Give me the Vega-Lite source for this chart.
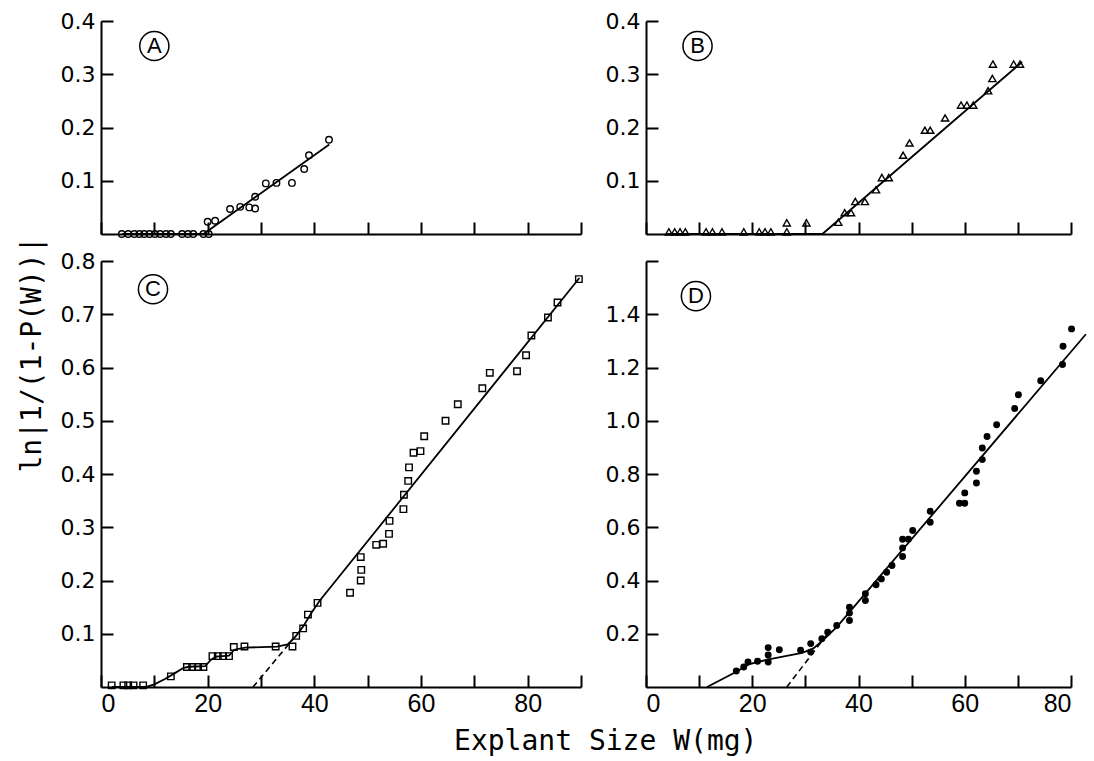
{
  "$schema": "https://vega.github.io/schema/vega-lite/v6.json",
  "background": "white",
  "padding": {"left": 17, "top": 10, "right": 5, "bottom": 5},
  "title": {"text": "Explant Size W(mg)", "orient": "bottom", "anchor": "middle", "font": "DejaVu Sans Mono", "fontSize": 28, "fontWeight": "normal", "color": "black", "offset": 12, "dx": 52},
  "datasets": {
    "Apt": [{"x":3.9,"y":0},{"x":5.1,"y":0},{"x":6.25,"y":0},{"x":7.2,"y":0},{"x":8.1,"y":0},{"x":9.1,"y":0},{"x":10.1,"y":0},{"x":11.1,"y":0},{"x":12.2,"y":0},{"x":13.1,"y":0},{"x":15.2,"y":0},{"x":16.3,"y":0},{"x":17.3,"y":0},{"x":19.2,"y":0},{"x":20.2,"y":0},{"x":20,"y":0.023},{"x":21.4,"y":0.025},{"x":24.2,"y":0.047},{"x":26.1,"y":0.051},{"x":27.8,"y":0.05},{"x":28.9,"y":0.048},{"x":28.9,"y":0.07},{"x":30.9,"y":0.095},{"x":32.9,"y":0.096},{"x":35.8,"y":0.096},{"x":38.1,"y":0.122},{"x":39,"y":0.148},{"x":42.75,"y":0.177}],
    "Afit": [{"x":4,"y":0},{"x":19.2,"y":0},{"x":42.8,"y":0.168}],
    "Alab": [{"x":10,"y":0.353,"t":"A"}],
    "Bpt": [{"x":4.3,"y":0.004},{"x":5.4,"y":0.004},{"x":6.4,"y":0.004},{"x":7.4,"y":0.004},{"x":11.3,"y":0.004},{"x":12.5,"y":0.004},{"x":14.3,"y":0.004},{"x":18.4,"y":0.004},{"x":21.3,"y":0.004},{"x":22.4,"y":0.004},{"x":23.5,"y":0.004},{"x":26.5,"y":0.004},{"x":26.5,"y":0.021},{"x":30.2,"y":0.021},{"x":36.2,"y":0.022},{"x":37.4,"y":0.04},{"x":38.6,"y":0.04},{"x":39.4,"y":0.061},{"x":41.2,"y":0.061},{"x":43.3,"y":0.083},{"x":44.4,"y":0.106},{"x":45.7,"y":0.106},{"x":48.4,"y":0.148},{"x":49.6,"y":0.171},{"x":52.5,"y":0.195},{"x":53.5,"y":0.195},{"x":56.3,"y":0.218},{"x":59.3,"y":0.242},{"x":60.4,"y":0.242},{"x":61.6,"y":0.242},{"x":64.4,"y":0.269},{"x":65.2,"y":0.292},{"x":65.3,"y":0.319},{"x":69.2,"y":0.319},{"x":70.4,"y":0.319}],
    "Bfit": [{"x":4,"y":0},{"x":33.2,"y":0},{"x":70.8,"y":0.323}],
    "Blab": [{"x":9.7,"y":0.353,"t":"B"}],
    "Cpt": [{"x":2,"y":0.003},{"x":4.2,"y":0.003},{"x":5.1,"y":0.003},{"x":6.1,"y":0.003},{"x":7.9,"y":0.003},{"x":13.1,"y":0.02},{"x":16.1,"y":0.0375},{"x":17.1,"y":0.0375},{"x":18.2,"y":0.0375},{"x":19.2,"y":0.0375},{"x":20.9,"y":0.058},{"x":21.9,"y":0.058},{"x":22.9,"y":0.058},{"x":24,"y":0.058},{"x":24.9,"y":0.075},{"x":26.9,"y":0.076},{"x":32.75,"y":0.076},{"x":35.9,"y":0.076},{"x":36.6,"y":0.096},{"x":37.9,"y":0.11},{"x":38.8,"y":0.136},{"x":40.6,"y":0.158},{"x":46.7,"y":0.177},{"x":48.7,"y":0.2},{"x":48.8,"y":0.22},{"x":48.7,"y":0.244},{"x":51.6,"y":0.267},{"x":52.9,"y":0.269},{"x":54,"y":0.2875},{"x":54.1,"y":0.312},{"x":56.7,"y":0.334},{"x":56.8,"y":0.361},{"x":57.6,"y":0.387},{"x":57.75,"y":0.4125},{"x":58.6,"y":0.44},{"x":59.9,"y":0.443},{"x":60.6,"y":0.471},{"x":64.6,"y":0.5},{"x":66.9,"y":0.531},{"x":71.5,"y":0.561},{"x":72.9,"y":0.59},{"x":78,"y":0.593},{"x":79.7,"y":0.623},{"x":80.7,"y":0.66},{"x":83.8,"y":0.694},{"x":85.6,"y":0.722},{"x":89.6,"y":0.766}],
    "Cfit": [{"x":2,"y":0},{"x":8.4,"y":0},{"x":10,"y":0.005},{"x":12,"y":0.015},{"x":14,"y":0.027},{"x":15.5,"y":0.036},{"x":16.5,"y":0.038},{"x":19.5,"y":0.039},{"x":20.5,"y":0.05},{"x":21.5,"y":0.057},{"x":24,"y":0.059},{"x":25,"y":0.07},{"x":27,"y":0.074},{"x":33,"y":0.076},{"x":35,"y":0.08},{"x":36.5,"y":0.095},{"x":38,"y":0.115},{"x":39.5,"y":0.14},{"x":41,"y":0.162},{"x":89.7,"y":0.768}],
    "Cdash": [{"x":28.5,"y":0},{"x":36,"y":0.09}],
    "Clab": [{"x":9.75,"y":0.747,"t":"C"}],
    "Dpt": [{"x":17,"y":0.06},{"x":18.4,"y":0.075},{"x":19.2,"y":0.094},{"x":21,"y":0.097},{"x":23,"y":0.094},{"x":23,"y":0.12},{"x":23,"y":0.148},{"x":25.1,"y":0.14},{"x":29.1,"y":0.138},{"x":31,"y":0.131},{"x":31,"y":0.163},{"x":33.1,"y":0.181},{"x":34.2,"y":0.206},{"x":35.9,"y":0.231},{"x":38.3,"y":0.25},{"x":38.3,"y":0.2775},{"x":38.3,"y":0.3},{"x":41.3,"y":0.325},{"x":41.3,"y":0.35},{"x":43.3,"y":0.384},{"x":44.3,"y":0.406},{"x":45.3,"y":0.431},{"x":46.3,"y":0.456},{"x":48.3,"y":0.49},{"x":48.3,"y":0.5225},{"x":48.3,"y":0.555},{"x":49.4,"y":0.555},{"x":50.2,"y":0.5875},{"x":53.5,"y":0.619},{"x":53.5,"y":0.66},{"x":59,"y":0.69},{"x":60,"y":0.69},{"x":60,"y":0.729},{"x":62.2,"y":0.766},{"x":62.2,"y":0.81},{"x":63.3,"y":0.854},{"x":63.3,"y":0.8975},{"x":64.2,"y":0.941},{"x":66,"y":0.985},{"x":69.4,"y":1.046},{"x":70.1,"y":1.0975},{"x":74.3,"y":1.15},{"x":78.4,"y":1.211},{"x":78.5,"y":1.28},{"x":80.1,"y":1.345}],
    "Dfit": [{"x":11.5,"y":0},{"x":17.1,"y":0.058},{"x":19.3,"y":0.085},{"x":23.1,"y":0.104},{"x":26,"y":0.115},{"x":29.4,"y":0.128},{"x":31.5,"y":0.145},{"x":33.1,"y":0.172},{"x":35.9,"y":0.225},{"x":82.8,"y":1.325}],
    "Ddash": [{"x":26.5,"y":0},{"x":34,"y":0.195}],
    "Dlab": [{"x":9.4,"y":1.468,"t":"D"}]
  },
  "columns": 2,
  "spacing": {"row": 27, "column": 65},
  "bounds": "flush",
  "concat": [
    {
      "width": 480, "height": 213,
      "encoding": {
        "x": {"field": "x", "type": "quantitative", "scale": {"domain": [0, 90], "nice": false, "zero": false}, "axis": {"values": [0,10,20,30,40,50,60,70,80,90], "labels": false, "title": null}},
        "y": {"field": "y", "type": "quantitative", "scale": {"domain": [0, 0.4], "nice": false}, "axis": {"values": [0.1,0.2,0.3,0.4], "format": ".1f", "title": null}}
      },
      "layer": [
        {"data": {"name": "Afit"}, "mark": {"type": "line", "color": "black", "strokeWidth": 1.8}},
        {"data": {"name": "Apt"}, "mark": {"type": "point", "shape": "circle", "filled": false, "color": "black", "strokeWidth": 1.4, "size": 42, "opacity": 1}},
        {"data": {"name": "Alab"}, "mark": {"type": "point", "shape": "circle", "filled": false, "color": "black", "strokeWidth": 1.5, "size": 850, "opacity": 1}},
        {"data": {"name": "Alab"}, "mark": {"type": "text", "font": "Liberation Sans", "fontSize": 22, "color": "black", "baseline": "middle", "align": "center"}, "encoding": {"text": {"field": "t"}}}
      ]
    },
    {
      "width": 425, "height": 213,
      "encoding": {
        "x": {"field": "x", "type": "quantitative", "scale": {"domain": [0, 80], "nice": false, "zero": false}, "axis": {"values": [0,10,20,30,40,50,60,70,80], "labels": false, "title": null}},
        "y": {"field": "y", "type": "quantitative", "scale": {"domain": [0, 0.4], "nice": false}, "axis": {"values": [0.1,0.2,0.3,0.4], "format": ".1f", "title": null}}
      },
      "layer": [
        {"data": {"name": "Bfit"}, "mark": {"type": "line", "color": "black", "strokeWidth": 1.8}},
        {"data": {"name": "Bpt"}, "mark": {"type": "point", "shape": "triangle-up", "filled": false, "color": "black", "strokeWidth": 1.4, "size": 52, "opacity": 1}},
        {"data": {"name": "Blab"}, "mark": {"type": "point", "shape": "circle", "filled": false, "color": "black", "strokeWidth": 1.5, "size": 850, "opacity": 1}},
        {"data": {"name": "Blab"}, "mark": {"type": "text", "font": "Liberation Sans", "fontSize": 22, "color": "black", "baseline": "middle", "align": "center"}, "encoding": {"text": {"field": "t"}}}
      ]
    },
    {
      "width": 480, "height": 426,
      "encoding": {
        "x": {"field": "x", "type": "quantitative", "scale": {"domain": [0, 90], "nice": false, "zero": false}, "axis": {"values": [0,10,20,30,40,50,60,70,80,90], "labelExpr": "datum.value % 20 === 0 ? datum.label : ''", "title": null}},
        "y": {"field": "y", "type": "quantitative", "scale": {"domain": [0, 0.8], "nice": false}, "axis": {"values": [0.1,0.2,0.3,0.4,0.5,0.6,0.7,0.8], "format": ".1f", "title": "ln|1/(1-P(W))|", "titleX": -69, "titleY": 93, "titleAngle": 270, "titleAlign": "center", "titleBaseline": "middle", "titleFont": "DejaVu Sans Mono", "titleFontSize": 28, "titleFontWeight": "normal", "titleColor": "black"}}
      },
      "layer": [
        {"data": {"name": "Cfit"}, "mark": {"type": "line", "color": "black", "strokeWidth": 1.8}},
        {"data": {"name": "Cdash"}, "mark": {"type": "line", "color": "black", "strokeWidth": 1.6, "strokeDash": [6, 4]}},
        {"data": {"name": "Cpt"}, "mark": {"type": "point", "shape": "square", "filled": false, "color": "black", "strokeWidth": 1.4, "size": 42, "opacity": 1}},
        {"data": {"name": "Clab"}, "mark": {"type": "point", "shape": "circle", "filled": false, "color": "black", "strokeWidth": 1.5, "size": 850, "opacity": 1}},
        {"data": {"name": "Clab"}, "mark": {"type": "text", "font": "Liberation Sans", "fontSize": 22, "color": "black", "baseline": "middle", "align": "center"}, "encoding": {"text": {"field": "t"}}}
      ]
    },
    {
      "width": 425, "height": 426,
      "encoding": {
        "x": {"field": "x", "type": "quantitative", "scale": {"domain": [0, 80], "nice": false, "zero": false}, "axis": {"values": [0,10,20,30,40,50,60,70,80], "labelExpr": "datum.value % 20 === 0 ? datum.label : ''", "title": null}},
        "y": {"field": "y", "type": "quantitative", "scale": {"domain": [0, 1.6], "nice": false}, "axis": {"values": [0.2,0.4,0.6,0.8,1.0,1.2,1.4,1.6], "labelExpr": "datum.value > 1.5 ? '' : format(datum.value, '.1f')", "title": null}}
      },
      "layer": [
        {"data": {"name": "Dfit"}, "mark": {"type": "line", "color": "black", "strokeWidth": 1.8}},
        {"data": {"name": "Ddash"}, "mark": {"type": "line", "color": "black", "strokeWidth": 1.6, "strokeDash": [6, 4]}},
        {"data": {"name": "Dpt"}, "mark": {"type": "point", "shape": "circle", "filled": true, "color": "black", "size": 48, "opacity": 1}},
        {"data": {"name": "Dlab"}, "mark": {"type": "point", "shape": "circle", "filled": false, "color": "black", "strokeWidth": 1.5, "size": 850, "opacity": 1}},
        {"data": {"name": "Dlab"}, "mark": {"type": "text", "font": "Liberation Sans", "fontSize": 22, "color": "black", "baseline": "middle", "align": "center"}, "encoding": {"text": {"field": "t"}}}
      ]
    }
  ],
  "config": {
    "view": {"stroke": null},
    "axis": {"grid": false, "domainColor": "black", "domainWidth": 2, "tickColor": "black", "tickWidth": 2, "tickSize": -12, "labelColor": "black", "labelFont": "Liberation Sans", "labelFontSize": 19},
    "axisX": {"labelFontSize": 25, "labelPadding": 16},
    "axisY": {"labelFont": "DejaVu Sans", "labelFontSize": 22, "labelPadding": 18}
  }
}
